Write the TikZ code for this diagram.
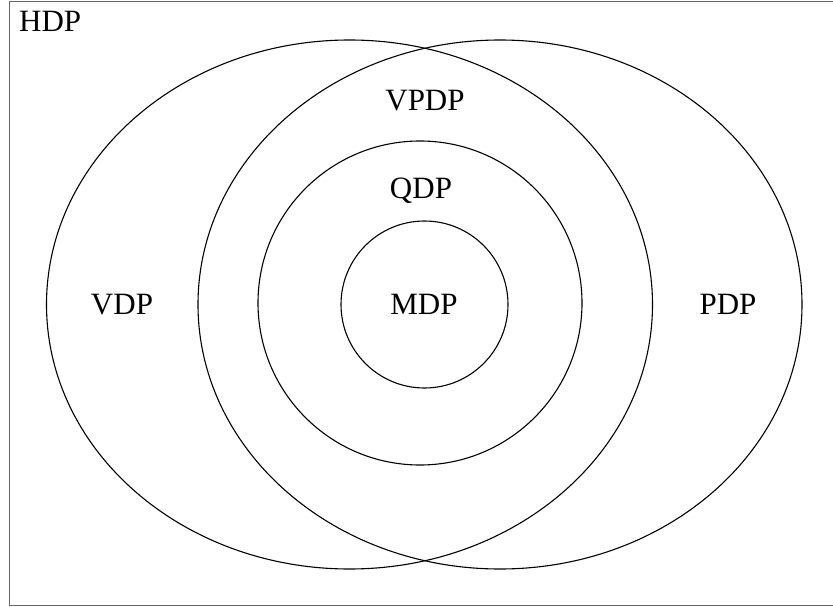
\documentclass[tikz,border=0pt]{standalone}
\usepackage{fontspec}
\setmainfont{Liberation Serif}
\begin{document}
\begin{tikzpicture}[x=1pt,y=-1pt,
  setline/.style={draw=black,line width=1.1pt},
  setlabel/.style={anchor=base,inner sep=0pt,font=\fontsize{31}{35}\selectfont}]
\useasboundingbox (0,0) rectangle (833,607);
% universe box
\draw[draw=gray!80!black,line width=1pt] (9,2) rectangle (836,605.5);
\node[setlabel,anchor=base west] (hdp) at (19,32) {HDP};
% two overlapping ellipses
\draw[setline] (349.5,304.5) ellipse [x radius=303,y radius=264.5];
\draw[setline] (500,304.5) ellipse [x radius=302,y radius=264.5];
% nested circles
\draw[setline] (420,303) circle [radius=162];
\draw[setline] (424.5,304.5) circle [radius=83.5];
% labels
\node[setlabel] (vdp) at (122,314) {VDP};
\node[setlabel] (pdp) at (728,314) {PDP};
\node[setlabel] (vpdp) at (425,111) {VPDP};
\node[setlabel] (qdp) at (421,199) {QDP};
\node[setlabel] (mdp) at (424,314) {MDP};
\end{tikzpicture}
\end{document}
